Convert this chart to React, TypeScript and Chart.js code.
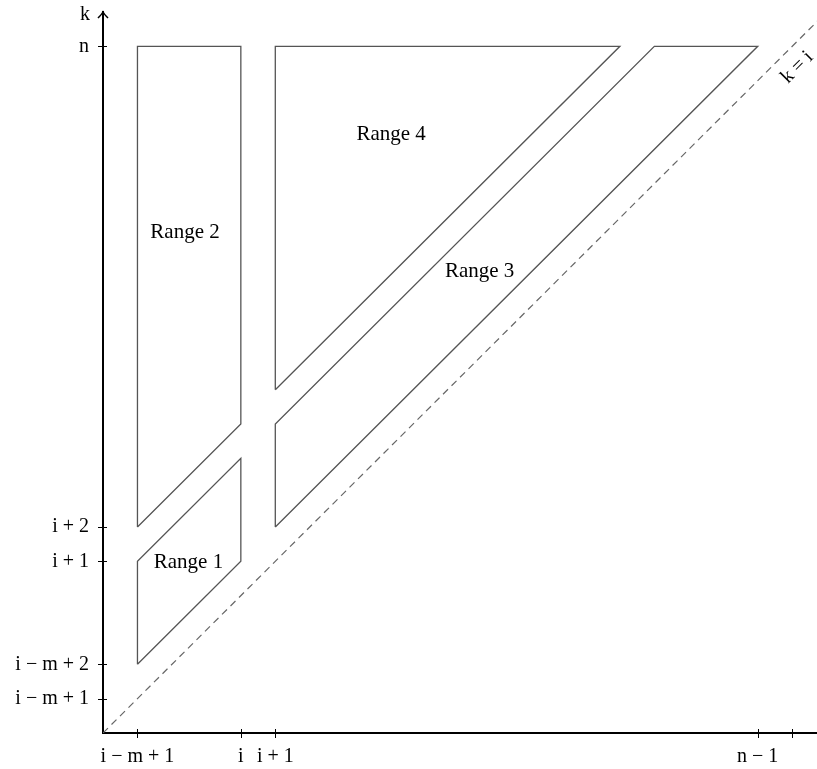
import React, { useEffect, useRef } from "react";
import { Chart, registerables } from "chart.js";

Chart.register(...registerables);

// ---- tick definitions ----
const xTickValues = [1, 4, 5, 19, 20];
const xTickLabels = ["i − m + 1", "i", "i + 1", "n − 1", ""];
const yTickValues = [1, 2, 5, 6, 20];
const yTickLabels = ["i − m + 1", "i − m + 2", "i + 1", "i + 2", "n"];

// ---- region outlines (closed polygons) ----
const range1X = [1, 1, 4, 4, 1];
const range1Y = [2, 5, 8, 5, 2];
const range2X = [1, 1, 4, 4, 1];
const range2Y = [6, 20, 20, 9, 6];
const range3X = [5, 5, 16, 19, 5];
const range3Y = [6, 9, 20, 20, 6];
const range4X = [5, 5, 15, 5];
const range4Y = [10, 20, 20, 10];

// ---- diagonal k = i ----
const diagonalX = [0, 22];
const diagonalY = [0, 22];

// ---- labels ----
const rangeNames = ["Range 1", "Range 2", "Range 3", "Range 4"];
const rangeLabelX = [2.48, 2.38, 10.93, 8.36];
const rangeLabelY = [4.98, 14.58, 13.43, 17.44];
const diagonalLabel = "k = i";
const diagonalLabelX = 19.77;
const diagonalLabelY = 19.01;
const yAxisTitle = "k";

const X_MIN = 0;
const X_MAX = 20.72;
const Y_MIN = 0;
const Y_MAX = 21;

const FONT = "'Liberation Serif', 'Times New Roman', serif";

const toPoints = (xs: number[], ys: number[]) => xs.map((x, i) => ({ x, y: ys[i] }));

const outline = (xs: number[], ys: number[]) => ({
  data: toPoints(xs, ys),
  showLine: true,
  fill: false,
  borderColor: "#555",
  borderWidth: 1.3,
  pointRadius: 0,
  tension: 0,
});

const decorPlugin = {
  id: "decor",
  afterDraw(chart: any) {
    const { ctx, scales } = chart;
    const xs = scales.x;
    const ys = scales.y;
    const ox = xs.getPixelForValue(X_MIN);
    const oy = ys.getPixelForValue(Y_MIN);
    ctx.save();
    // tick marks crossing the axes
    ctx.strokeStyle = "#000";
    ctx.lineWidth = 1;
    xTickValues.forEach((v) => {
      const px = Math.round(xs.getPixelForValue(v)) + 0.5;
      ctx.beginPath();
      ctx.moveTo(px, oy - 4);
      ctx.lineTo(px, oy + 5);
      ctx.stroke();
    });
    yTickValues.forEach((v) => {
      const py = Math.round(ys.getPixelForValue(v)) + 0.5;
      ctx.beginPath();
      ctx.moveTo(ox - 5, py);
      ctx.lineTo(ox + 4, py);
      ctx.stroke();
    });
    // arrow head on the y axis
    const top = ys.getPixelForValue(Y_MAX);
    ctx.lineWidth = 1.6;
    ctx.beginPath();
    ctx.moveTo(ox - 5, top + 6);
    ctx.quadraticCurveTo(ox - 1, top + 2, ox, top);
    ctx.quadraticCurveTo(ox + 1, top + 2, ox + 5, top + 6);
    ctx.stroke();
    // axis title k
    ctx.fillStyle = "#000";
    ctx.font = `20px ${FONT}`;
    ctx.textAlign = "right";
    ctx.textBaseline = "middle";
    ctx.fillText(yAxisTitle, ox - 13, top + 3);
    // range labels
    ctx.font = `21px ${FONT}`;
    ctx.textAlign = "center";
    rangeNames.forEach((name, i) => {
      ctx.fillText(name, xs.getPixelForValue(rangeLabelX[i]), ys.getPixelForValue(rangeLabelY[i]));
    });
    // diagonal label
    ctx.font = `20px ${FONT}`;
    ctx.translate(xs.getPixelForValue(diagonalLabelX), ys.getPixelForValue(diagonalLabelY));
    ctx.rotate(-Math.PI / 4);
    ctx.textAlign = "left";
    ctx.fillText(diagonalLabel, 0, 0);
    ctx.restore();
  },
};

export default function App() {
  const canvasRef = useRef<HTMLCanvasElement | null>(null);

  useEffect(() => {
    if (!canvasRef.current) return;
    const chart = new Chart(canvasRef.current, {
      type: "scatter",
      data: {
        datasets: [
          outline(range1X, range1Y),
          outline(range2X, range2Y),
          outline(range3X, range3Y),
          outline(range4X, range4Y),
          {
            data: toPoints(diagonalX, diagonalY),
            showLine: true,
            fill: false,
            borderColor: "#666",
            borderWidth: 1.2,
            borderDash: [7, 5],
            pointRadius: 0,
          },
        ],
      },
      options: {
        animation: false,
        responsive: true,
        maintainAspectRatio: false,
        layout: { padding: { top: 12, left: 0, right: 0, bottom: 0 } },
        plugins: { legend: { display: false }, tooltip: { enabled: false } },
        scales: {
          x: {
            type: "linear",
            min: X_MIN,
            max: X_MAX,
            afterFit: (s: any) => {
              s.height = 36;
              s.paddingLeft = 0;
              s.paddingRight = 0;
            },
            afterBuildTicks: (s: any) => {
              s.ticks = xTickValues.map((v) => ({ value: v }));
            },
            grid: { display: false },
            border: { display: true, color: "#000", width: 2 },
            ticks: {
              autoSkip: false,
              maxRotation: 0,
              padding: 4,
              color: "#000",
              font: { family: FONT, size: 20 },
              callback: (v: any) => {
                const i = xTickValues.indexOf(Number(v));
                return i >= 0 ? xTickLabels[i] : "";
              },
            },
          },
          y: {
            type: "linear",
            min: Y_MIN,
            max: Y_MAX,
            afterFit: (s: any) => {
              s.width = 103;
              s.paddingTop = 0;
              s.paddingBottom = 0;
            },
            afterBuildTicks: (s: any) => {
              s.ticks = yTickValues.map((v) => ({ value: v }));
            },
            grid: { display: false },
            border: { display: true, color: "#000", width: 2 },
            ticks: {
              autoSkip: false,
              padding: 6,
              color: "#000",
              font: { family: FONT, size: 20 },
              callback: (v: any) => {
                const i = yTickValues.indexOf(Number(v));
                return i >= 0 ? yTickLabels[i] : "";
              },
            },
          },
        },
      },
      plugins: [decorPlugin],
    });
    return () => chart.destroy();
  }, []);

  return (
    <div
      style={{
        position: "fixed",
        left: 0,
        top: 0,
        width: 817,
        height: 769,
        background: "#fff",
      }}
    >
      <canvas ref={canvasRef} />
    </div>
  );
}
